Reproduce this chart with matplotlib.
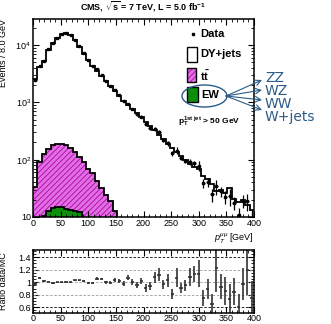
import numpy as np
import matplotlib.pyplot as plt
from matplotlib.patches import Ellipse, Rectangle
from matplotlib.lines import Line2D
from matplotlib.ticker import FixedLocator, MultipleLocator, LogLocator, NullFormatter

plt.rcParams['font.family'] = ['Liberation Sans', 'DejaVu Sans']
plt.rcParams['mathtext.fontset'] = 'custom'
plt.rcParams['mathtext.rm'] = 'Liberation Sans'
plt.rcParams['mathtext.it'] = 'Liberation Sans:italic'
plt.rcParams['mathtext.bf'] = 'Liberation Sans:bold'
plt.rcParams['hatch.linewidth'] = 0.6

# dimuon pT, 8 GeV bins from 0 to 400
bin_edges = np.arange(0, 401, 8)

# stacked MC total (DY+jets on top of ttbar and EW)
mc_total = [2512, 4074, 5248, 8318, 10965, 13490, 15849, 16218, 14791, 12023,
            9333, 7079, 5495, 4365, 3548, 2884, 2399, 1950, 1585, 1318,
            1072, 891, 759, 646, 550, 457, 380, 324, 275, 229,
            190, 162, 135, 117, 100, 85, 76, 69, 52, 46,
            38, 28, 30, 26, 32, 21, 18, 20, 16, 13]

ttbar = [30, 84, 116, 142, 164, 175, 175, 164, 145, 122,
         100, 82, 62, 53, 39, 29, 22, 17, 11, 6.5,
         5, 3.6, 2.7, 2, 1.5, 1.1, 0.8, 0.6, 0.5, 0.4,
         0.3, 0.25, 0.2, 0.15, 0.12, 0.1, 0.08, 0.07, 0.06, 0.05,
         0.04, 0.04, 0.03, 0.03, 0.02, 0.02, 0.02, 0.01, 0.01, 0.01]

ew = [4, 7, 10.3, 12.6, 14.5, 15, 15, 14, 13.5, 12.9,
      12.3, 8.5, 6.5, 5, 4, 3.2, 2.6, 2.1, 1.7, 1.4,
      1.2, 1.0, 0.8, 0.7, 0.6, 0.5, 0.4, 0.35, 0.3, 0.25,
      0.2, 0.2, 0.15, 0.15, 0.1, 0.1, 0.1, 0.08, 0.08, 0.06,
      0.06, 0.05, 0.05, 0.04, 0.04, 0.03, 0.03, 0.03, 0.02, 0.02]

# data / MC ratio and its uncertainty
ratio = [0.98, 1.07, 1.02, 1.01, 0.99, 1.00, 1.00, 1.01, 1.00, 1.03,
         1.03, 1.02, 0.99, 0.99, 1.06, 1.05, 1.00, 0.99, 1.04, 1.02,
         0.98, 1.07, 1.00, 0.96, 1.02, 0.91, 0.94, 1.08, 1.12, 0.97,
         1.03, 0.81, 1.07, 0.91, 0.95, 1.08, 1.13, 1.14, 0.75, 0.89,
         0.65, 1.23, 0.93, 0.86, 0.73, 0.85, 0.61, 0.97, 1.19, 0.75]

ratio_err = [0.02, 0.015, 0.012, 0.01, 0.01, 0.01, 0.01, 0.01, 0.01, 0.01,
             0.012, 0.013, 0.015, 0.016, 0.018, 0.02, 0.022, 0.025, 0.028, 0.03,
             0.035, 0.04, 0.045, 0.05, 0.055, 0.06, 0.065, 0.085, 0.1, 0.07,
             0.1, 0.08, 0.15, 0.08, 0.09, 0.14, 0.13, 0.21, 0.13, 0.16,
             0.16, 0.38, 0.2, 0.22, 0.24, 0.22, 0.2, 0.25, 0.4, 0.27]

ew_parts = ['ZZ', 'WZ', 'WW', 'W+jets']

mc_total = np.array(mc_total, dtype=float)
ttbar = np.array(ttbar)
ew = np.array(ew)
ratio = np.array(ratio)
ratio_err = np.array(ratio_err)
centers = bin_edges[:-1] + 4
data = mc_total * ratio
data_err = mc_total * ratio_err

W, H = 331, 324
def fx(px):
    return px / W
def fy(py):
    return 1 - py / H

magenta_face = '#e070e0'
magenta_hatch = '#b000b0'
green = '#0c900c'
blue = '#2a5b88'

fig = plt.figure(figsize=(3.31, 3.24), dpi=100)
ax = fig.add_axes([fx(33), fy(217), fx(254) - fx(33), fy(19) - fy(217)])
rax = fig.add_axes([fx(33), fy(313), fx(254) - fx(33), fy(250) - fy(313)])

# main panel: stack
ax.stairs(mc_total, bin_edges, baseline=1, fill=True, facecolor='white', edgecolor='none')
ax.stairs(mc_total, bin_edges, baseline=None, color='black', lw=1.3)
ax.stairs(ttbar + ew, bin_edges, baseline=1e-3, fill=True, facecolor=magenta_face,
          edgecolor=magenta_hatch, hatch='//////', lw=0)
ax.stairs(ttbar + ew, bin_edges, baseline=None, color='black', lw=1.3)
ax.stairs(ew, bin_edges, baseline=1e-3, fill=True, facecolor=green, lw=0)
ax.stairs(ew, bin_edges, baseline=None, color='black', lw=1.3)
ax.errorbar(centers, data, yerr=data_err, xerr=3, fmt='s', ms=1.5, color='black',
            lw=0.9, capsize=0)

ax.set_yscale('log')
ax.set_xlim(0, 400)
ax.set_ylim(10, 28500)
ax.yaxis.set_major_locator(FixedLocator([10, 100, 1000, 10000]))
ax.set_yticklabels(['10', '$10^{2}$', '$10^{3}$', '$10^{4}$'])
ax.yaxis.set_minor_locator(LogLocator(base=10, subs=np.arange(2, 10)))
ax.yaxis.set_minor_formatter(NullFormatter())
for a in (ax, rax):
    a.xaxis.set_major_locator(MultipleLocator(50))
    a.xaxis.set_minor_locator(MultipleLocator(10))
    a.tick_params(which='both', direction='in', top=True, right=True, labelsize=6.5, pad=1.5)
    a.tick_params(which='major', length=4.5, width=0.8)
    a.tick_params(which='minor', length=2.5, width=0.6)
    for s in a.spines.values():
        s.set_linewidth(1.1)
rax.tick_params(axis='x', pad=0.5)

ax.set_ylabel('Events / 8.0 GeV', fontsize=6.5, loc='top')
ax.yaxis.set_label_coords(-0.113, 1.0)
ax.set_xlabel(r'$p_{T}^{\mu\mu}$ [GeV]', fontsize=6.5, loc='right')
ax.xaxis.set_label_coords(1.0, -0.075)

fig.text(fx(143), fy(7), r'CMS, $\sqrt{\mathbf{s}}$ = 7 TeV, L = 5.0 fb$^{\mathbf{-1}}$',
         ha='center', va='center', fontsize=6.5, fontweight='bold')

# legend drawn by hand
fig.add_artist(Line2D([fx(193)], [fy(34)], marker='s', ms=2, color='black',
                      transform=fig.transFigure))
fig.text(fx(200), fy(34), 'Data', fontsize=8, fontweight='bold', va='center')
fig.add_artist(Rectangle((fx(187), fy(62)), 10 / W, 15 / H, transform=fig.transFigure,
                         facecolor='white', edgecolor='black', lw=1))
fig.text(fx(200), fy(54), 'DY+jets', fontsize=8, fontweight='bold', va='center')
fig.add_artist(Rectangle((fx(187), fy(82)), 9 / W, 14 / H, transform=fig.transFigure,
                         facecolor=magenta_face, edgecolor=magenta_hatch, hatch='//////', lw=0))
fig.add_artist(Rectangle((fx(187), fy(82)), 9 / W, 14 / H, transform=fig.transFigure,
                         fill=False, edgecolor='black', lw=1))
fig.text(fx(200), fy(76), r'$\mathbf{t\bar{t}}$', fontsize=8, va='center')
fig.add_artist(Rectangle((fx(187), fy(102)), 11 / W, 15 / H, transform=fig.transFigure,
                         facecolor=green, edgecolor='black', lw=1))
fig.text(fx(201), fy(95), 'EW', fontsize=8, fontweight='bold', va='center')
fig.text(fx(178), fy(122), r'$\mathbf{p_{T}^{1st\ jet}}$ > 50 GeV', fontsize=6,
         fontweight='bold', va='center')

# EW breakdown callout
fig.add_artist(Ellipse((fx(204.5), fy(96)), 45 / W, 22 / H, transform=fig.transFigure,
                       fill=False, edgecolor=blue, lw=1))
tips = [80, 90, 100, 110]
baselines = [82, 95, 108, 121]
for name, tip, base in zip(ew_parts, tips, baselines):
    fig.add_artist(plt.Annotation('', xy=(fx(262), fy(tip)), xytext=(fx(226), fy(96)),
                                  xycoords='figure fraction', textcoords='figure fraction',
                                  arrowprops=dict(arrowstyle='->', color=blue, lw=0.8,
                                                  shrinkA=0, shrinkB=0)))
    fig.text(fx(265), fy(base), name, fontsize=10, color=blue, va='baseline',
             family='DejaVu Sans')

# ratio panel
for v in [0.6, 0.8, 1.0, 1.2, 1.4]:
    c = 'black' if v in (0.6, 1.4) else '#999999'
    rax.axhline(v, ls=(0, (3, 2)), color=c, lw=0.6)
rax.errorbar(centers, ratio, yerr=ratio_err, xerr=3, fmt='none', ecolor='#333333',
             lw=1.2, capsize=0)
rax.set_xlim(0, 400)
rax.set_ylim(0.51, 1.515)
rax.yaxis.set_major_locator(FixedLocator([0.6, 0.8, 1.0, 1.2, 1.4]))
rax.set_yticklabels(['0.6', '0.8', '1', '1.2', '1.4'])
rax.yaxis.set_minor_locator(MultipleLocator(0.05))
rax.set_ylabel('Ratio data/MC', fontsize=6.5)
rax.yaxis.set_label_coords(-0.113, 0.5)

fig.savefig('out.png', dpi=100)
